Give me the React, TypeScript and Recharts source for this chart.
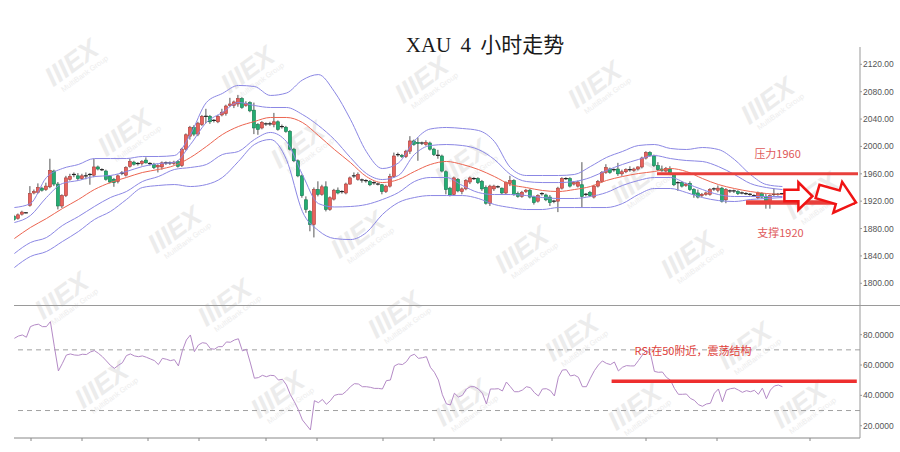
import React from 'react';
import { ComposedChart, Bar, Line, XAxis, YAxis, ReferenceLine, ReferenceDot } from 'recharts';

// ---------- data ----------
const OPEN = [1898,1895,1901,1903,1914,1932,1933,1939,1937,1941,1964,1945,1913,1928,1952,1958,1957,1953,1957,1958,1958,1970,1966,1964,1956,1952,1949,1960,1958,1971,1977,1974,1975,1980,1975,1974,1970,1970,1975,1976,1975,1978,1972,1996,2015,2028,2018,2032,2043,2044,2037,2036,2046,2048,2060,2060,2062,2070,2060,2064,2053,2032,2027,2033,2032,2032,2036,2028,2028,2022,1996,1979,1957,1922,1905,1886,1937,1930,1941,1908,1923,1936,1933,1932,1945,1956,1952,1951,1950,1949,1946,1945,1944,1934,1942,1956,1988,1987,1985,1993,2008,2006,2004,2003,2005,1996,1987,1986,1963,1939,1930,1952,1934,1938,1948,1953,1953,1949,1940,1917,1938,1941,1939,1932,1946,1950,1931,1927,1934,1936,1926,1920,1930,1929,1926,1919,1920,1939,1953,1953,1945,1942,1944,1929,1933,1926,1942,1949,1962,1967,1965,1967,1960,1963,1966,1965,1967,1970,1983,1991,1986,1972,1967,1964,1967,1959,1946,1947,1943,1946,1937,1932,1928,1930,1930,1937,1936,1939,1922,1935,1934,1934,1932,1931,1930,1928,1925,1931,1927,1920,1929,1930,1931];
const HIGH = [1900,1902,1906,1904,1942,1937,1946,1941,1947,1982,1966,1948,1930,1957,1960,1962,1961,1960,1962,1961,1982,1972,1968,1966,1958,1954,1959,1964,1971,1982,1979,1977,1980,1984,1977,1976,1974,1978,1978,1978,1979,1980,1998,2019,2030,2031,2036,2046,2055,2046,2040,2046,2055,2061,2071,2067,2075,2072,2066,2066,2064,2034,2037,2035,2036,2049,2038,2032,2030,2024,1998,1981,1959,1927,1907,1940,1949,1944,1949,1927,1938,1940,1936,1947,1956,1962,1962,1953,1952,1951,1949,1947,1945,1944,1960,1991,1991,1989,1995,2015,2010,2013,2007,2009,2007,1998,1995,1988,1965,1941,1956,1954,1940,1952,1956,1955,1955,1951,1943,1944,1944,1943,1940,1949,1957,1952,1934,1935,1938,1938,1928,1930,1933,1931,1929,1922,1941,1955,1955,1955,1949,1950,1977,1932,1935,1944,1951,1964,1974,1969,1968,1976,1966,1968,1971,1969,1971,1985,1993,1993,1988,1977,1972,1970,1971,1961,1949,1949,1947,1949,1939,1937,1932,1934,1939,1940,1943,1941,1939,1937,1937,1936,1934,1933,1932,1930,1934,1933,1931,1930,1939,1932,1932];
const LOW = [1891,1893,1899,1902,1912,1930,1931,1934,1935,1939,1942,1908,1910,1926,1950,1955,1950,1951,1952,1944,1955,1965,1964,1950,1946,1941,1946,1958,1956,1969,1972,1972,1972,1975,1972,1967,1962,1966,1973,1973,1973,1969,1970,1994,2010,2015,2015,2030,2034,2033,2035,2034,2044,2045,2058,2056,2058,2055,2058,2050,2018,2017,2025,2030,2030,2028,2023,2026,2020,1994,1977,1955,1925,1903,1876,1867,1927,1928,1905,1906,1921,1930,1931,1930,1944,1954,1950,1947,1947,1942,1944,1943,1930,1932,1940,1954,1985,1983,1983,1989,2001,1979,2002,2001,1994,1986,1982,1962,1930,1927,1928,1933,1930,1936,1945,1951,1945,1935,1915,1913,1935,1939,1930,1930,1942,1928,1925,1925,1932,1924,1915,1918,1928,1920,1913,1917,1904,1937,1951,1940,1943,1940,1910,1927,1926,1924,1940,1947,1960,1960,1963,1957,1957,1961,1963,1963,1965,1968,1981,1985,1970,1964,1963,1962,1959,1942,1935,1940,1941,1935,1925,1924,1926,1928,1928,1935,1933,1918,1917,1932,1932,1929,1930,1929,1928,1926,1923,1924,1909,1909,1927,1928,1929];
const CLOSE = [1893,1900,1904,1903,1931,1934,1940,1936,1942,1965,1945,1913,1928,1954,1956,1959,1953,1957,1956,1959,1970,1967,1966,1952,1948,1947,1957,1961,1969,1978,1974,1975,1978,1976,1974,1969,1972,1976,1976,1975,1977,1971,1996,2017,2028,2018,2034,2044,2044,2036,2038,2044,2050,2059,2062,2065,2070,2057,2063,2052,2027,2025,2035,2032,2033,2036,2025,2029,2022,1996,1979,1957,1928,1908,1886,1937,1930,1941,1908,1925,1936,1932,1934,1945,1954,1957,1959,1950,1949,1944,1947,1945,1934,1942,1956,1986,1988,1985,1993,2008,2003,2004,2005,2006,1996,1988,1986,1964,1937,1929,1954,1935,1938,1950,1954,1953,1947,1938,1917,1942,1942,1941,1932,1947,1950,1930,1927,1933,1936,1926,1918,1928,1931,1922,1918,1920,1939,1953,1953,1942,1947,1948,1927,1930,1928,1942,1949,1962,1969,1962,1966,1960,1963,1966,1965,1967,1970,1983,1991,1987,1972,1966,1965,1968,1961,1944,1947,1942,1945,1937,1930,1926,1930,1932,1937,1938,1939,1920,1937,1934,1935,1931,1932,1931,1930,1928,1932,1926,1920,1928,1930,1930,1930];
const RSI = [77.6,79.1,79.8,78.3,85.3,86.4,86.9,85.3,85.3,88.6,72.0,56.1,61.1,66.6,67.3,66.6,66.4,67.1,66.9,68.6,69.5,67.7,65.5,62.7,59.8,57.8,59.8,61.5,66.2,67.3,66.0,65.5,66.0,65.1,64.0,62.9,60.3,64.4,63.8,62.9,63.5,59.4,69.5,76.5,79.8,68.8,73.2,74.7,74.3,70.8,70.4,72.1,72.1,75.2,75.0,76.5,77.3,69.3,70.4,61.3,51.3,51.7,53.2,52.3,53.2,53.0,50.1,50.6,46.9,40.4,35.8,30.4,23.8,20.5,17.2,36.5,35.2,37.3,34.1,36.5,40.0,40.7,40.7,42.8,45.7,47.7,47.5,45.7,45.7,45.3,44.6,44.6,44.2,49.7,50.1,59.4,60.7,60.3,62.2,66.0,67.1,64.4,64.8,65.5,58.5,55.2,50.1,40.4,34.4,33.7,41.4,38.9,40.0,44.2,45.7,45.7,44.2,41.4,34.3,44.2,44.2,44.4,42.9,48.8,45.7,42.4,42.4,43.5,45.7,45.1,41.8,39.6,44.2,44.4,43.1,39.6,51.9,56.7,56.9,52.8,53.4,51.9,45.7,45.7,51.3,56.3,60.0,62.7,61.1,60.3,62.0,56.1,58.5,59.6,59.4,59.4,62.9,66.6,69.5,67.7,55.8,55.2,55.4,51.9,50.1,44.6,40.7,40.7,40.9,38.0,36.7,33.9,32.8,34.3,34.8,41.4,44.2,35.8,43.5,44.4,44.8,43.5,42.0,43.1,42.4,43.3,40.7,44.8,37.8,43.5,46.2,46.8,45.7];

// band lines sampled every 4 candles
const BAND_IDX = [0,4,8,12,16,20,24,28,32,36,40,44,48,52,56,60,64,68,72,76,80,84,88,92,96,100,104,108,112,116,120,124,128,132,136,140,144,148,152,156,160,164,168,172,176,180,184,188,192];
const BAND_OUTER_UP = [1910.7,1916.5,1954.6,1967.7,1973.6,1982.3,1982.3,1982.3,1985.3,1985.3,1986.7,2017.4,2064.2,2077.4,2089.1,2087.6,2074.5,2078.0,2097.0,2105.0,2080.0,2039.6,1992.3,1967.7,1975.8,2008.2,2025.5,2027.7,2026.2,2023.3,2007.2,1969.2,1957.5,1957.5,1957.5,1959.0,1970.6,1983.8,1992.6,2001.3,2002.8,1997.0,1995.5,1998.4,1995.5,1980.9,1959.0,1944.3,1941.4];
const BAND_INNER_UP = [1888.8,1899.0,1925.3,1945.8,1950.2,1956.0,1957.5,1963.3,1970.6,1975.0,1976.5,2002.8,2035.0,2049.6,2064.2,2059.8,2056.9,2056.9,2046.7,2030.6,2010.1,1983.8,1960.4,1951.6,1957.5,1988.2,2001.3,2002.8,2001.3,1995.5,1980.9,1959.0,1948.7,1947.2,1947.2,1948.7,1954.6,1964.8,1973.6,1980.9,1986.7,1982.3,1979.4,1978.0,1970.6,1959.0,1945.8,1939.9,1937.0];
const BAND_MID = [1865.4,1881.5,1894.6,1909.2,1922.4,1937.0,1947.2,1954.6,1961.9,1966.3,1972.1,1983.8,1999.9,2017.4,2029.1,2036.4,2042.3,2042.3,2035.0,2016.0,1995.5,1976.5,1956.0,1947.2,1951.6,1963.3,1973.6,1978.0,1973.6,1966.3,1956.0,1944.3,1939.9,1935.6,1934.1,1937.0,1941.4,1950.2,1956.0,1960.4,1963.3,1967.7,1963.3,1953.1,1944.3,1938.5,1934.1,1931.2,1929.7];
const BAND_INNER_LOW = [1843.5,1859.5,1866.8,1884.4,1897.5,1912.2,1925.3,1934.1,1948.7,1956.0,1966.3,1969.2,1973.6,1988.2,1992.6,2010.1,2020.4,2007.2,1958.9,1916.5,1911.5,1912.2,1915.1,1922.4,1932.6,1948.7,1954.6,1954.6,1942.9,1932.6,1929.7,1929.7,1928.2,1925.3,1923.9,1923.9,1926.8,1932.6,1942.9,1950.2,1954.6,1954.6,1945.8,1937.0,1929.7,1926.8,1926.8,1926.8,1926.8];
const BAND_OUTER_LOW = [1823.0,1839.1,1846.4,1861.0,1875.6,1893.2,1904.9,1922.4,1939.9,1942.9,1944.3,1941.4,1944.3,1954.6,1978.0,2002.8,2010.1,1980.9,1904.9,1877.1,1865.4,1863.9,1874.2,1900.5,1918.0,1925.3,1928.2,1928.2,1928.2,1923.9,1915.1,1910.7,1907.8,1907.8,1910.7,1910.7,1910.7,1910.7,1916.5,1929.7,1938.5,1938.5,1932.6,1925.3,1920.9,1919.5,1922.4,1923.9,1925.3];

const PRICE_TICKS = [1800, 1840, 1880, 1920, 1960, 2000, 2040, 2080, 2120];
const RSI_TICKS = [20, 40, 60, 80];
const TIME_TICKS = [4.15, 16.9, 33.4, 46.15, 62.9, 75.65, 92.15, 104.9, 121.65, 134.4, 157.9, 175.65, 198.9];

const RESISTANCE = 1960;
const SUPPORT = 1918;
const RSI_LEVEL = 49.3;
const TITLE = 'XAU 4 小时走势';
const LABEL_RES = '压力1960';
const LABEL_SUP = '支撑1920';
const LABEL_RSI = 'RSI在50附近，震荡结构';
const WATERMARK_TEXT = 'IIIEX';
const WATERMARK_SUB = 'MultiBank Group';
// background watermark spots (decoration, page pixels)
const WATERMARK_SPOTS: [number, number][] = [
  [77, 70], [253, 77], [427, 87], [600, 92], [773, 108],
  [130, 140], [303, 152], [467, 170], [643, 187], [817, 203],
  [180, 237], [363, 242], [527, 257], [693, 262],
  [67, 303], [230, 310], [400, 322], [577, 345], [750, 353],
  [107, 392], [283, 402], [467, 410], [640, 414], [805, 412],
];

// ---------- table ----------
type Row = { [k: string]: any };
const data: Row[] = OPEN.map((o, i) => ({
  i,
  open: o,
  high: HIGH[i],
  low: LOW[i],
  close: CLOSE[i],
  hl: [LOW[i], HIGH[i]],
  rsi: RSI[i],
}));
BAND_IDX.forEach((idx, k) => {
  Object.assign(data[idx], {
    ou: BAND_OUTER_UP[k],
    iu: BAND_INNER_UP[k],
    mid: BAND_MID[k],
    il: BAND_INNER_LOW[k],
    ol: BAND_OUTER_LOW[k],
  });
});

const X_DOMAIN: [number, number] = [-0.1, 211.4];
const CJK = '"Noto Sans CJK SC", "Noto Sans", sans-serif';
const AXIS_FONT = { fill: '#555', fontSize: 8.5, fontFamily: '"Liberation Sans", Arial, sans-serif' };

const Candle = (props: any) => {
  const { x, y, width, height, payload } = props;
  if (x == null || y == null || !payload) return null;
  const { open, close, high, low } = payload;
  const top = Math.min(y, y + height);
  const h = Math.abs(height);
  const k = high > low ? h / (high - low) : 0;
  const yO = top + (high - open) * k;
  const yC = top + (high - close) * k;
  const cx = x + width / 2;
  const doji = Math.abs(close - open) <= 1;
  const up = close > open;
  const bodyTop = Math.min(yO, yC);
  const bodyH = Math.max(Math.abs(yC - yO), 1);
  return (
    <g>
      <line x1={cx} x2={cx} y1={top} y2={top + h} stroke="#555" strokeWidth={1} />
      {doji ? (
        <line x1={cx - 2} x2={cx + 2} y1={bodyTop} y2={bodyTop} stroke="#222" strokeWidth={1.2} />
      ) : (
        <rect
          x={cx - 1.6}
          y={bodyTop}
          width={3.2}
          height={bodyH}
          fill={up ? '#e9625c' : '#23ad72'}
          stroke={up ? '#a8403c' : '#187a50'}
          strokeWidth={0.6}
        />
      )}
    </g>
  );
};

const TextMark = (txt: string, size: number, color: string) => (p: any) => (
  <text x={p.cx} y={p.cy} textAnchor="middle" fontSize={size} fill={color} fontFamily={CJK}>
    {txt}
  </text>
);

const Arrow1 = (p: any) => (
  <polygon
    transform={`translate(${p.cx},${p.cy})`}
    points="0,0 -14,-14 -14,-6.5 -28,-6.5 -28,5 -14,5 -14,13.5"
    fill="#fff"
    stroke="#f01414"
    strokeWidth={2.5}
    strokeLinejoin="miter"
  />
);

const Arrow2 = (p: any) => (
  <polygon
    transform={`translate(${p.cx},${p.cy}) rotate(16)`}
    points="0,0 -19,-16 -19,-7 -40,-7 -40,7 -19,7 -19,16"
    fill="#fff"
    stroke="#f01414"
    strokeWidth={2.5}
    strokeLinejoin="miter"
  />
);

const EmptyTick = () => <g />;

const bandLine = (key: string, color: string) => (
  <Line
    key={key}
    dataKey={key}
    type="monotone"
    stroke={color}
    strokeWidth={1}
    dot={false}
    activeDot={false}
    connectNulls
    isAnimationActive={false}
  />
);

export default function App() {
  return (
    <div style={{ position: 'absolute', left: 0, top: 0, width: 900, height: 452, background: '#fff', overflow: 'hidden' }}>
      <svg width={900} height={452} style={{ position: 'absolute', left: 0, top: 0 }}>
        {WATERMARK_SPOTS.map(([x, y], n) => (
          <g key={n} transform={`translate(${x},${y}) rotate(-36)`}>
            <text
              x={0}
              y={0}
              textAnchor="middle"
              fontSize={27}
              fontWeight={900}
              fontStyle="italic"
              fill="#ececec"
              fontFamily='"Liberation Sans", Arial, sans-serif'
            >
              {WATERMARK_TEXT}
            </text>
            <text
              x={4}
              y={10}
              textAnchor="middle"
              fontSize={7.5}
              fill="#ededed"
              fontFamily='"Liberation Sans", Arial, sans-serif'
            >
              {WATERMARK_SUB}
            </text>
          </g>
        ))}
      </svg>

      <div
        style={{
          position: 'absolute',
          left: 335,
          top: 33,
          width: 300,
          textAlign: 'center',
          fontSize: 21,
          lineHeight: '24px',
          color: '#1a1a1a',
          fontFamily: '"Liberation Serif", "Noto Sans CJK SC", serif',
          whiteSpace: 'pre',
          wordSpacing: 4,
        }}
      >
        {TITLE}
      </div>

      <div style={{ position: 'absolute', left: 0, top: 0 }}>
        <ComposedChart width={900} height={306} data={data} margin={{ top: 47, right: 0, bottom: 0, left: 14 }}>
          <XAxis dataKey="i" type="number" domain={X_DOMAIN} hide allowDataOverflow />
          <YAxis
            orientation="right"
            domain={[1766.8, 2145.3]}
            ticks={PRICE_TICKS}
            allowDataOverflow
            width={40}
            tick={AXIS_FONT}
            tickSize={2}
            tickMargin={1}
            axisLine={{ stroke: '#999' }}
            tickLine={{ stroke: '#999' }}
            tickFormatter={(v: number) => v.toFixed(2)}
          />
          {bandLine('ol', '#8b87e4')}
          {bandLine('il', '#8b87e4')}
          {bandLine('iu', '#8b87e4')}
          {bandLine('ou', '#8b87e4')}
          {bandLine('mid', '#ec6450')}
          <Bar dataKey="hl" shape={Candle} barSize={3} isAnimationActive={false} />
          <ReferenceLine
            segment={[{ x: 160.65, y: RESISTANCE }, { x: 210.9, y: RESISTANCE }]}
            stroke="#e8403c"
            strokeWidth={3}
          />
          <ReferenceDot x={199.5} y={1927.2} r={0} shape={Arrow1} />
          <ReferenceDot x={210.4} y={1918.0} r={0} shape={Arrow2} />
          <ReferenceLine
            segment={[{ x: 182.9, y: SUPPORT }, { x: 210.15, y: SUPPORT }]}
            stroke="#e8403c"
            strokeWidth={4.5}
          />
          <ReferenceDot x={190.8} y={1983.8} r={0} shape={TextMark(LABEL_RES, 11, '#e05a5a')} />
          <ReferenceDot x={191.5} y={1867.6} r={0} shape={TextMark(LABEL_SUP, 11, '#e05a5a')} />
        </ComposedChart>
      </div>

      <div style={{ position: 'absolute', left: 14, top: 305, width: 886, height: 1, background: '#9a9a9a' }} />

      <div style={{ position: 'absolute', left: 0, top: 300 }}>
        <ComposedChart width={900} height={152} data={data} margin={{ top: 6, right: 0, bottom: 0, left: 14 }}>
          <XAxis
            dataKey="i"
            type="number"
            domain={X_DOMAIN}
            allowDataOverflow
            ticks={TIME_TICKS}
            interval={0}
            height={14}
            tick={<EmptyTick />}
            tickSize={3}
            axisLine={{ stroke: '#888' }}
            tickLine={{ stroke: '#888' }}
          />
          <YAxis
            orientation="right"
            domain={[11.9, 98.9]}
            ticks={RSI_TICKS}
            allowDataOverflow
            width={40}
            tick={AXIS_FONT}
            tickSize={2}
            tickMargin={1}
            axisLine={{ stroke: '#999' }}
            tickLine={{ stroke: '#999' }}
            tickFormatter={(v: number) => v.toFixed(4)}
          />
          <ReferenceLine y={70} stroke="#a0a0a0" strokeDasharray="5 4" />
          <ReferenceLine y={30} stroke="#a0a0a0" strokeDasharray="5 4" />
          <Line
            dataKey="rsi"
            type="linear"
            stroke="#b48ac6"
            strokeWidth={1}
            dot={false}
            activeDot={false}
            isAnimationActive={false}
          />
          <ReferenceLine
            segment={[{ x: 149.3, y: RSI_LEVEL }, { x: 210.6, y: RSI_LEVEL }]}
            stroke="#ee2f2f"
            strokeWidth={3.5}
          />
          <ReferenceDot x={169.65} y={66.4} r={0} shape={TextMark(LABEL_RSI, 11, '#e0403a')} />
        </ComposedChart>
      </div>
    </div>
  );
}
